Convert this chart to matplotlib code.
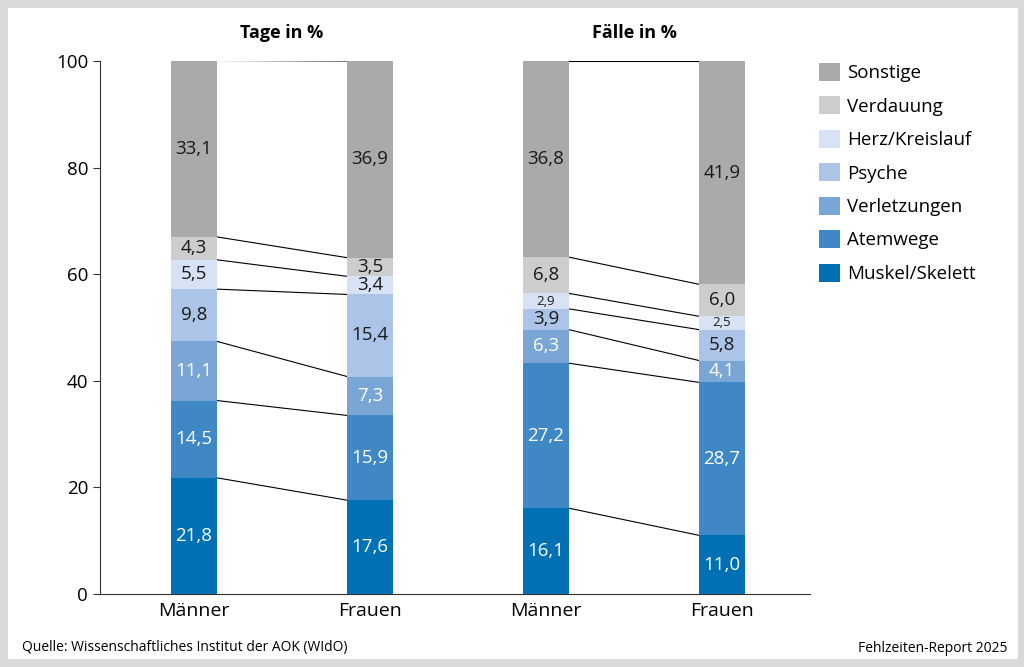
"""Arbeitsunfähigkeit nach Krankheitsarten, Männer vs. Frauen."""

import numpy as np
import matplotlib.pyplot as plt
from matplotlib.patches import Rectangle

plt.rcParams['font.family'] = ['Open Sans', 'DejaVu Sans']

# Data
categories = ['Muskel/Skelett', 'Atemwege', 'Verletzungen', 'Psyche',
              'Herz/Kreislauf', 'Verdauung', 'Sonstige']
colors = ['#0070b5', '#3f88c5', '#7aa6d6', '#abc4e8',
          '#d7e3f5', '#cdcdcd', '#aaaaaa']
label_colors = ['white', 'white', 'white', '#1a1a1a',
                '#1a1a1a', '#1a1a1a', '#1a1a1a']

bar_labels = ['Männer', 'Frauen', 'Männer', 'Frauen']
tage_maenner = [21.8, 14.5, 11.1, 9.8, 5.5, 4.3, 33.1]
tage_frauen = [17.6, 15.9, 7.3, 15.4, 3.4, 3.5, 36.9]
faelle_maenner = [16.1, 27.2, 6.3, 3.9, 2.9, 6.8, 36.8]
faelle_frauen = [11.0, 28.7, 4.1, 5.8, 2.5, 6.0, 41.9]
panel_titles = ['Tage in %', 'Fälle in %']

values = np.array([tage_maenner, tage_frauen, faelle_maenner, faelle_frauen])

##########
# Figure #
##########
fig = plt.figure(figsize=(10.24, 6.67), dpi=100)
fig.patch.set_facecolor('#d9d9d9')
fig.add_artist(Rectangle((8 / 1024, 8 / 667), 1 - 14 / 1024, 1 - 16 / 667,
                         transform=fig.transFigure, facecolor='white',
                         edgecolor='none', zorder=-1))

ax = fig.add_axes([100 / 1024, 1 - 594 / 667, 710 / 1024, 533 / 667])
ax.patch.set_visible(False)

x = np.arange(len(bar_labels))
width = 0.26
bottoms = np.zeros(len(x))
for i, cat in enumerate(categories):
    vals = values[:, i]
    ax.bar(x, vals, width, bottom=bottoms, color=colors[i], label=cat,
           zorder=2)
    for xi, v, b in zip(x, vals, bottoms):
        fs = 9.5 if v < 3 else 13.5
        ax.text(xi, b + v / 2, f'{v:.1f}'.replace('.', ','), ha='center',
                va='center', color=label_colors[i], fontsize=fs, zorder=3)
    bottoms += vals

# Connecting lines between the two bars of each panel
cum = np.cumsum(values, axis=1)
for left, right in [(0, 1), (2, 3)]:
    for j in range(len(categories)):
        ax.plot([x[left] + width / 2, x[right] - width / 2],
                [cum[left, j], cum[right, j]], color='black', lw=0.8,
                zorder=1)
    ax.text((x[left] + x[right]) / 2, 105.3, panel_titles[left // 2],
            ha='center', va='center', fontsize=13, fontweight='bold')

ax.set_xlim(-0.534, 3.5)
ax.set_ylim(0, 100)
ax.set_yticks(range(0, 101, 20))
ax.set_xticks(x)
ax.set_xticklabels(bar_labels, fontsize=14)
ax.tick_params(axis='x', length=0, pad=6)
ax.tick_params(axis='y', labelsize=13.5, length=5, color='#333333')
for s in ['top', 'right']:
    ax.spines[s].set_visible(False)
ax.spines['left'].set_color('#333333')
ax.spines['bottom'].set_color('#333333')

handles, labels = ax.get_legend_handles_labels()
fig.legend(handles[::-1], labels[::-1], loc='upper left',
           bbox_to_anchor=(802 / 1024, 1 - 46 / 667), frameon=False,
           fontsize=13.5, handlelength=1.1, handleheight=1.1,
           labelspacing=0.75, handletextpad=0.4)

fig.text(22 / 1024, 1 - 648 / 667,
         'Quelle: Wissenschaftliches Institut der AOK (WIdO)',
         fontsize=10, va='center', ha='left')
fig.text(1008 / 1024, 1 - 648 / 667, 'Fehlzeiten-Report 2025',
         fontsize=10, va='center', ha='right')

fig.savefig('out.png', dpi=100)
